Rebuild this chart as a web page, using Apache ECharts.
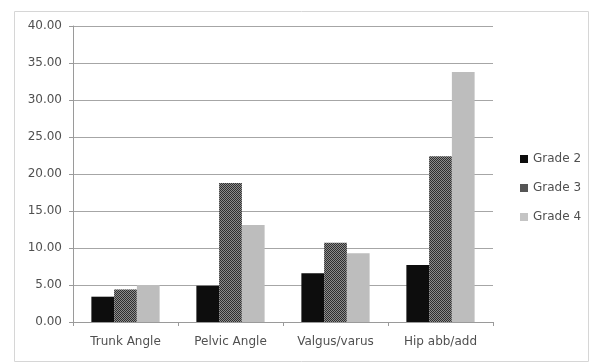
<!DOCTYPE html>
<html>
<head>
<meta charset="utf-8">
<script src="https://cdn.jsdelivr.net/npm/echarts@6/dist/echarts.min.js"></script>
<style>
  html, body { margin: 0; padding: 0; background: #fff; }
  #chart { width: 596px; height: 362px; }
</style>
</head>
<body>
<div id="chart"></div>
<script>
// Joint angle measurements by grade
const categories = ['Trunk Angle', 'Pelvic Angle', 'Valgus/varus', 'Hip abb/add'];
const grade2 = [3.42, 4.90, 6.60, 7.70];
const grade3 = [4.40, 18.80, 10.70, 22.40];
const grade4 = [5.00, 13.10, 9.30, 33.80];
const seriesNames = ['Grade 2', 'Grade 3', 'Grade 4'];
const yTicks = { min: 0, max: 40, interval: 5 };

// Fine checkered fill for the middle series
function checker() {
  const c = document.createElement('canvas');
  c.width = 2; c.height = 2;
  const g = c.getContext('2d');
  g.fillStyle = '#8c8c8c'; g.fillRect(0, 0, 2, 2);
  g.fillStyle = '#2e2e2e'; g.fillRect(0, 0, 1, 1); g.fillRect(1, 1, 1, 1);
  return c;
}
const pattern = { image: checker(), repeat: 'repeat' };
const fills = ['#0d0d0d', pattern, '#bdbdbd'];
const legendFills = ['#0d0d0d', '#555555', '#c4c4c4'];

const chart = echarts.init(document.getElementById('chart'), null, { renderer: 'canvas' });
const font = 'DejaVu Sans';
const textColor = '#505050';
const seriesData = [grade2, grade3, grade4];

chart.setOption({
  animation: false,
  backgroundColor: '#ffffff',
  textStyle: { fontFamily: font },
  graphic: [{
    type: 'rect', left: 12, top: 9, z: -1,
    shape: { width: 574, height: 350 },
    style: { fill: 'none', stroke: '#d6d6d6', lineWidth: 1 }
  }],
  grid: { left: 73, right: 103, top: 26, bottom: 40, containLabel: false },
  legend: {
    orient: 'vertical', left: 515, top: 148, itemGap: 17,
    itemWidth: 8, itemHeight: 8, icon: 'rect',
    textStyle: { fontSize: 12, color: textColor, fontFamily: font },
    data: seriesNames.map((n, i) => ({ name: n, itemStyle: { color: legendFills[i] } }))
  },
  xAxis: {
    type: 'category', data: categories,
    axisLine: { lineStyle: { color: '#9a9a9a' } },
    axisTick: { show: true, length: 4, lineStyle: { color: '#9a9a9a' } },
    axisLabel: { fontSize: 12, color: textColor, margin: 14 }
  },
  yAxis: {
    type: 'value', min: yTicks.min, max: yTicks.max, interval: yTicks.interval,
    axisLine: { show: true, lineStyle: { color: '#9a9a9a' } },
    axisTick: { show: true, length: 4, lineStyle: { color: '#9a9a9a' } },
    axisLabel: { fontSize: 12, color: textColor, margin: 11, formatter: v => v.toFixed(2) },
    splitLine: { lineStyle: { color: '#a6a6a6' } }
  },
  series: seriesNames.map((name, i) => ({
    name, type: 'bar', data: seriesData[i],
    barGap: '0%', barCategoryGap: '35%',
    itemStyle: { color: fills[i] }
  }))
});
</script>
</body>
</html>
